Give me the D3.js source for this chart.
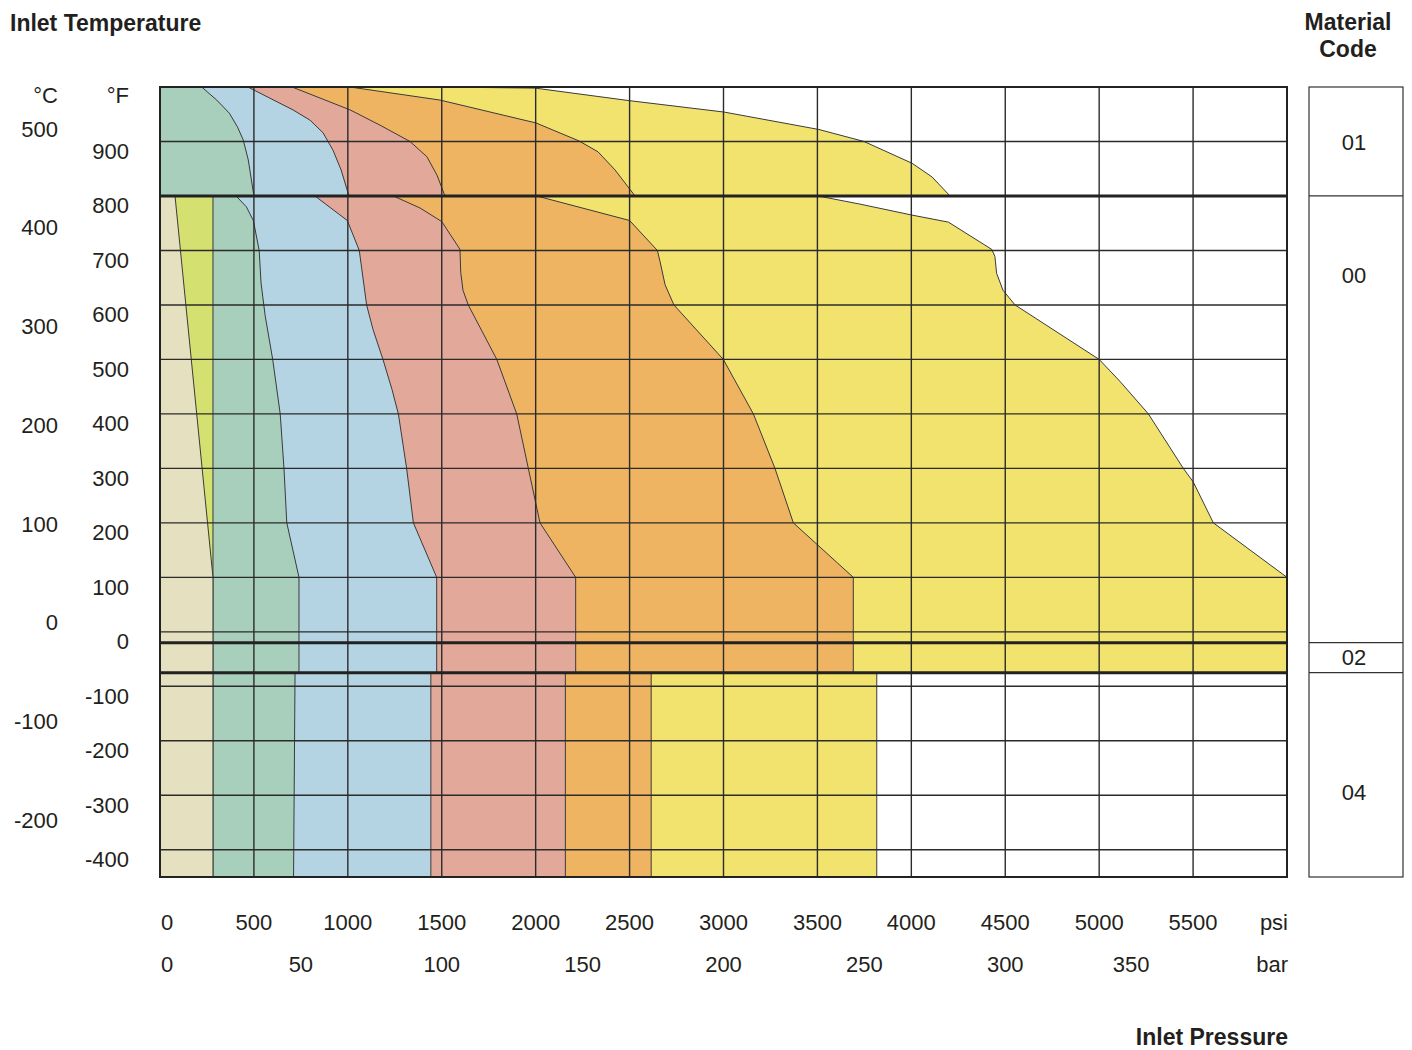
<!DOCTYPE html>
<html><head><meta charset="utf-8">
<script src="https://cdn.jsdelivr.net/npm/d3@7"></script>
<style>
body{margin:0;background:#fff}
text{font-family:"Liberation Sans",Arial,Helvetica,sans-serif;fill:#231f20}
</style>
</head><body>
<svg id="chart" width="1412" height="1050"></svg>
<script>
// ---------- data ----------
const psiTicks = [0,500,1000,1500,2000,2500,3000,3500,4000,4500,5000,5500];
const barTicks = [0,50,100,150,200,250,300,350];
const fahrenheitTicks = [900,800,700,600,500,400,300,200,100,0,-100,-200,-300,-400];
const celsiusTicks = [500,400,300,200,100,0,-100,-200];
const gridPsi = [500,1000,1500,2000,2500,3000,3500,4000,4500,5000,5500,6000];
const sectionLimitsF = [800,-20,-75];           // material code borders (°F)
const materialCodes = ["01","00","02","04"];

// right-hand limit of each coloured zone, as [psi, °F] from the top (1000 °F) down to -450 °F
const limit1 = [[0,1000],[0,800],[80,800],[282,100],[282,-450]];
const limit2 = [[0,1000],[0,800],[282,800],[282,-450]];
const limit3 = [[222,1000],[302,976],[369,952],[412,927],[443,903],[470,866],[500,800],
  [405,800],[460,780],[497,755],[528,700],[538,640],[560,580],[600,500],[640,400],[660,300],[675,200],[740,100],[740,-75],
  [719,-75],[711,-450]];
const limit4 = [[468,1000],[708,958],[799,939],[868,916],[921,884],[964,848],[1006,800],
  [825,800],[997,755],[1061,700],[1100,600],[1134,555],[1187,500],[1235,445],[1269,400],[1313,300],[1349,200],[1473,100],[1473,-75],
  [1442,-75],[1442,-450]];
const limit5 = [[703,1000],[1012,958],[1171,930],[1331,900],[1421,872],[1475,838],[1517,800],
  [1242,800],[1384,778],[1500,753],[1597,702],[1601,660],[1613,627],[1641,600],[1793,500],[1899,400],[1961,300],[2023,200],[2213,100],[2213,-75],
  [2158,-75],[2158,-450]];
const limit6 = [[1012,1000],[1491,976],[2002,934],[2231,901],[2332,881],[2422,848],[2529,800],
  [2005,800],[2500,755],[2648,700],[2662,680],[2689,637],[2736,600],[2999,500],[3159,400],[3274,300],[3372,200],[3691,100],[3691,-75],
  [2615,-75],[2615,-450]];
const limit7 = [[1491,1000],[1996,998],[2497,975],[3003,954],[3508,922],[3748,900],[4004,860],[4110,835],[4206,800],
  [3503,800],[3727,785],[4002,765],[4197,752],[4428,702],[4445,689],[4454,658],[4488,627],[4552,600],[5000,500],[5110,460],[5262,400],[5448,300],[5501,275],[5608,200],[6000,100],[6000,-75],
  [3816,-75],[3816,-450]];

// ---------- styles ----------
const zoneColors = ["#e5e0c0","#d4e070","#a8cebc","#b4d4e3","#e2a99b","#efb462","#f2e36e"];
const zones = [limit1,limit2,limit3,limit4,limit5,limit6,limit7];

// ---------- scales ----------
const svg = d3.select("#chart");
const x = d3.scaleLinear().domain([0,6000]).range([160,1287]);
const y = d3.scaleLinear().domain([-450,1000]).range([877,87]);
const xBar = d3.scaleLinear().domain([0,400]).range([160,1287]);
const yC = d3.scaleLinear().domain([-200,500]).range([828,136.5]);
const FS = 22, FT = 23;

// ---------- zones (widest first) ----------
const line = d3.line().x(d=>x(d[0])).y(d=>y(d[1]));
for (let i = zones.length-1; i >= 0; i--) {
  const pts = [[0,1000], ...zones[i], [0,-450]];
  svg.append("path")
    .attr("d", line(pts) + "Z")
    .attr("fill", zoneColors[i])
    .attr("stroke", "#3a3a3a")
    .attr("stroke-width", 1)
    .attr("stroke-linejoin", "round");
}

// ---------- grid ----------
const grid = svg.append("g");
grid.selectAll("line.v").data(gridPsi).join("line")
  .attr("x1", d=>x(d)).attr("x2", d=>x(d))
  .attr("y1", y(1000)).attr("y2", y(-450))
  .attr("stroke", "#2b2b2b").attr("stroke-width", 1.4);
grid.selectAll("line.h").data(fahrenheitTicks).join("line")
  .attr("x1", x(0)).attr("x2", x(6000))
  .attr("y1", d=>y(d)).attr("y2", d=>y(d))
  .attr("stroke", "#2b2b2b").attr("stroke-width", 1.4);
grid.selectAll("line.t").data(sectionLimitsF).join("line")
  .attr("x1", x(0)).attr("x2", x(6000))
  .attr("y1", d=>y(d)).attr("y2", d=>y(d))
  .attr("stroke", "#222").attr("stroke-width", 3);
svg.append("rect")
  .attr("x", x(0)).attr("y", y(1000))
  .attr("width", x(6000)-x(0)).attr("height", y(-450)-y(1000))
  .attr("fill", "none").attr("stroke", "#222").attr("stroke-width", 2);

// ---------- left axis labels ----------
svg.append("text").attr("x", 10).attr("y", 31)
  .attr("font-size", FT).attr("font-weight", "bold").text("Inlet Temperature");
svg.append("text").attr("x", 58).attr("y", 103).attr("text-anchor","end").attr("font-size", FS).text("°C");
svg.append("text").attr("x", 129).attr("y", 103).attr("text-anchor","end").attr("font-size", FS).text("°F");

svg.append("g").selectAll("text").data(fahrenheitTicks).join("text")
  .attr("x", 129).attr("y", d=>y(d)+17.5)
  .attr("text-anchor","end").attr("font-size", FS).text(d=>d);
svg.append("g").selectAll("text").data(celsiusTicks).join("text")
  .attr("x", 58).attr("y", d=>yC(d))
  .attr("text-anchor","end").attr("font-size", FS).text(d=>d);

// ---------- bottom axis labels ----------
svg.append("g").selectAll("text").data(psiTicks).join("text")
  .attr("x", d=> d===0 ? x(0)+1 : x(d))
  .attr("y", 930)
  .attr("text-anchor", d=> d===0 ? "start" : "middle")
  .attr("font-size", FS).text(d=>d);
svg.append("text").attr("x", 1288).attr("y", 930).attr("text-anchor","end").attr("font-size", FS).text("psi");

svg.append("g").selectAll("text").data(barTicks).join("text")
  .attr("x", d=> d===0 ? xBar(0)+1 : xBar(d) - (d===350 ? 15 : 0))
  .attr("y", 972)
  .attr("text-anchor", d=> d===0 ? "start" : "middle")
  .attr("font-size", FS).text(d=>d);
svg.append("text").attr("x", 1288).attr("y", 972).attr("text-anchor","end").attr("font-size", FS).text("bar");

svg.append("text").attr("x", 1288).attr("y", 1045).attr("text-anchor","end")
  .attr("font-size", FT).attr("font-weight","bold").text("Inlet Pressure");

// ---------- material code column ----------
const boxX = 1309, boxW = 94;
svg.append("text").attr("x", 1348).attr("y", 30).attr("text-anchor","middle")
  .attr("font-size", FT).attr("font-weight","bold").text("Material");
svg.append("text").attr("x", 1348).attr("y", 57).attr("text-anchor","middle")
  .attr("font-size", FT).attr("font-weight","bold").text("Code");
svg.append("rect").attr("x", boxX).attr("y", y(1000)).attr("width", boxW).attr("height", y(-450)-y(1000))
  .attr("fill","none").attr("stroke","#333").attr("stroke-width",1.2);
svg.append("g").selectAll("line").data(sectionLimitsF).join("line")
  .attr("x1", boxX).attr("x2", boxX+boxW).attr("y1", d=>y(d)).attr("y2", d=>y(d))
  .attr("stroke","#333").attr("stroke-width",1.2);
// label anchor temperatures inside each code band (layout)
const codeLabelAt = [898, 655, -47, -294];
svg.append("g").selectAll("text").data(materialCodes).join("text")
  .attr("x", boxX + boxW/2 - 2)
  .attr("y", (d,i)=>y(codeLabelAt[i]))
  .attr("dy", "0.36em")
  .attr("text-anchor","middle").attr("font-size", FS).text(d=>d);
</script>
</body></html>
